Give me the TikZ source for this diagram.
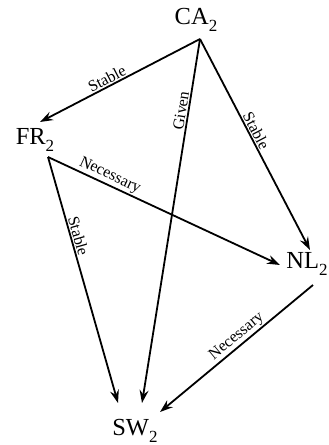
\documentclass[tikz,border=0pt]{standalone}
\usepackage{fontspec}
\setmainfont{Liberation Serif}
\usetikzlibrary{arrows.meta,calc}
\newcommand{\sbt}[1]{\raisebox{-0.3em}{\fontsize{17}{17}\selectfont #1}}
\begin{document}
\begin{tikzpicture}[x=1pt,y=-1pt,
  vtx/.style={inner sep=0pt, font=\fontsize{24.5}{24.5}\selectfont},
  edge/.style={line width=1.8pt, -{Stealth[length=13pt,width=9pt,inset=4.5pt]}},
  lbl/.style={sloped, above, inner sep=1.2pt, font=\fontsize{16}{16}\selectfont}]
\useasboundingbox (0,0) rectangle (329,445);
\node[vtx] (ca) at (196,20) {CA\sbt{2}};
\node[vtx] (fr) at (35,140) {FR\sbt{2}};
\node[vtx] (nl) at (307,264) {NL\sbt{2}};
\node[vtx] (sw) at (135,431) {SW\sbt{2}};
\draw[edge] ($(ca)+(4,19)$) -- node[lbl,pos=0.56] {Stable} ($(fr)+(5,-18)$);
\draw[edge] ($(ca)+(4,19)$) -- node[lbl,pos=0.2] {Given} ($(sw)+(7,-28)$);
\draw[edge] ($(ca)+(4,19)$) -- node[lbl,pos=0.45] {Stable} ($(nl)+(3,-14)$);
\draw[edge] ($(fr)+(13,17)$) -- node[lbl,pos=0.25] {Necessary} ($(nl)+(-27,1)$);
\draw[edge] ($(fr)+(13,17)$) -- node[lbl,pos=0.33] {Stable} ($(sw)+(-17,-28)$);
\draw[edge] ($(nl)+(6,21)$) -- node[lbl,pos=0.46] {Necessary} ($(sw)+(25,-19)$);
\end{tikzpicture}
\end{document}
